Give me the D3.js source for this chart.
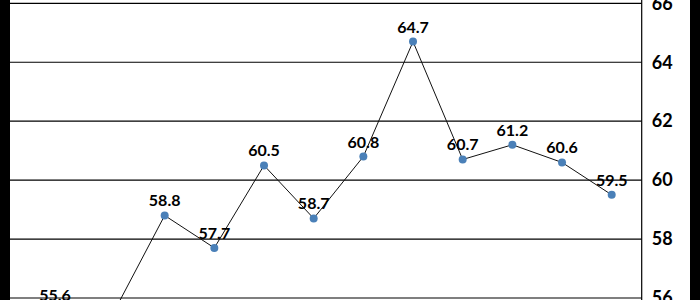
<!DOCTYPE html>
<html>
<head>
<meta charset="utf-8">
<script src="https://cdn.jsdelivr.net/npm/d3@7"></script>
<style>
body { margin: 0; background: #000; }
svg { display: block; }
</style>
</head>
<body>
<div class="graph"></div>
<script>
// values
var categories = [1, 2, 3, 4, 5, 6, 7, 8, 9, 10, 11];
var values = [55.6, 58.8, 57.7, 60.5, 58.7, 60.8, 64.7, 60.7, 61.2, 60.6, 59.5];
var yTicks = [56, 58, 60, 62, 64, 66];

const width = 700;
const height = 300;

var svg = d3.select(".graph")
    .append("svg")
    .attr("width", width)
    .attr("height", height);

// white panel between the black strips
svg.append("rect")
    .attr("x", 10)
    .attr("y", 0)
    .attr("width", 680)
    .attr("height", height)
    .attr("fill", "#fff");

scaleX = d3.scalePoint()
    .domain(categories)
    .range([115, 611.7]);

scaleY = d3.scaleLinear()
    .domain([56, 66])
    .range([298, 3.3]);

const axisX = 641.7;

// gridlines
svg.selectAll(".grid")
    .data(yTicks)
    .enter()
    .append("line")
    .attr("class", "grid")
    .attr("x1", 10)
    .attr("x2", axisX)
    .attr("y1", d => scaleY(d))
    .attr("y2", d => scaleY(d))
    .attr("stroke", "#000")
    .attr("stroke-width", 1.2);

// right axis
const yAxis = d3.axisRight(scaleY)
    .tickValues(yTicks)
    .tickSize(0)
    .tickPadding(10);

var ax = svg.append("g")
    .attr("transform", "translate(" + axisX + ",0)")
    .call(yAxis);
ax.select(".domain")
    .attr("d", "M0,0V" + height)
    .attr("stroke", "#000")
    .attr("stroke-width", 1.2);
ax.selectAll("text")
    .attr("font-family", "Lato")
    .attr("font-size", 18)
    .attr("font-weight", "bold")
    .attr("fill", "#000");

var pts = categories.map((c, i) => ({ c: c, v: values[i] }));

var line = d3.line()
    .x(d => scaleX(d.c))
    .y(d => scaleY(d.v));

svg.append("path")
    .datum(pts)
    .attr("d", line)
    .attr("fill", "none")
    .attr("stroke", "#111")
    .attr("stroke-width", 1);

svg.selectAll(".dot")
    .data(pts)
    .enter()
    .append("circle")
    .attr("class", "dot")
    .attr("cx", d => scaleX(d.c))
    .attr("cy", d => scaleY(d.v))
    .attr("r", 4)
    .attr("fill", "#4a80b8");

svg.selectAll(".lbl")
    .data(pts)
    .enter()
    .append("text")
    .attr("class", "lbl")
    .attr("x", (d, i) => scaleX(d.c) + (i == 0 ? -60 : 0))
    .attr("y", d => scaleY(d.v) - 9)
    .attr("text-anchor", "middle")
    .attr("font-family", "Lato")
    .attr("font-size", 16)
    .attr("font-weight", "bold")
    .attr("fill", "#000")
    .text(d => d.v.toFixed(1));
</script>
</body>
</html>
